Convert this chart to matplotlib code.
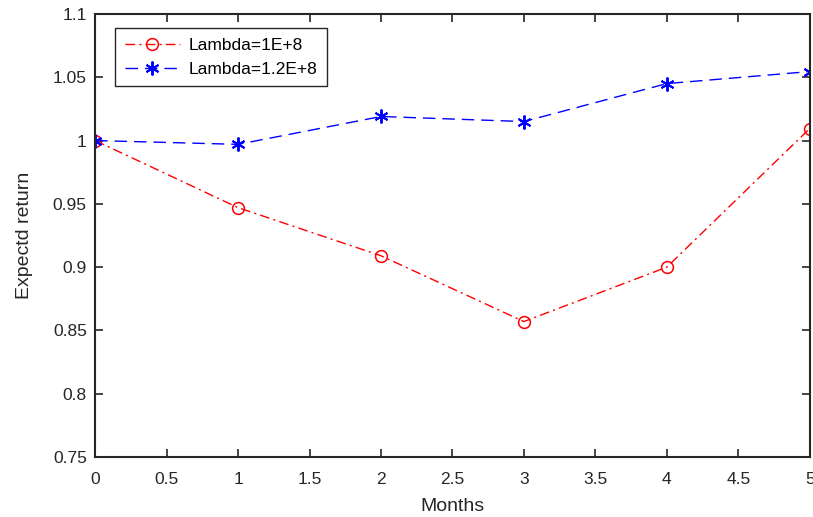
import matplotlib.pyplot as plt

months = [0, 1, 2, 3, 4, 5]
ret_1e8 = [1.0, 0.947, 0.909, 0.857, 0.900, 1.0095]
ret_12e8 = [1.0, 0.997, 1.019, 1.015, 1.045, 1.0545]

plt.rcParams['font.family'] = ['Liberation Sans', 'DejaVu Sans']

fig = plt.figure(figsize=(8.13, 5.17), dpi=100)
ax = fig.add_axes([0.117, 0.116, 0.879, 0.857])

ax.plot(months, ret_1e8, color='red', linestyle=(0, (7, 3, 1.5, 3)), marker='o', markersize=8.5,
        markerfacecolor='none', markeredgewidth=1.1, linewidth=1, label='Lambda=1E+8')
ax.plot(months, ret_12e8, color='blue', linestyle=(0, (9, 5)), marker=(6, 2, 0), markersize=10,
        markeredgewidth=1.4, linewidth=1, label='Lambda=1.2E+8')

ax.set_xlim(0, 5)
ax.set_ylim(0.75, 1.1)
ax.set_xticks([0, 0.5, 1, 1.5, 2, 2.5, 3, 3.5, 4, 4.5, 5])
ax.set_xticklabels(['0', '0.5', '1', '1.5', '2', '2.5', '3', '3.5', '4', '4.5', '5'])
ax.set_yticks([0.75, 0.8, 0.85, 0.9, 0.95, 1.0, 1.05, 1.1])
ax.set_yticklabels(['0.75', '0.8', '0.85', '0.9', '0.95', '1', '1.05', '1.1'])
ax.tick_params(direction='in', top=True, right=True, labelsize=12.5, length=6, width=1.2,
               colors='#262626')
ax.tick_params(axis='x', pad=11)
ax.tick_params(axis='y', pad=6)
for s in ax.spines.values():
    s.set_linewidth(1.5)
    s.set_color('#262626')

ax.set_xlabel('Months', fontsize=14, color='#262626', labelpad=8)
ax.set_ylabel('Expectd return', fontsize=14, color='#262626', labelpad=14)

leg = ax.legend(loc='upper left', bbox_to_anchor=(0.028, 0.968), borderaxespad=0,
                fontsize=12.5, fancybox=False, edgecolor='#262626', framealpha=1,
                handlelength=3.2, borderpad=0.55, labelspacing=0.5, handletextpad=0.5)
leg.get_frame().set_linewidth(1)

fig.savefig('out.png', dpi=100)
plt.close(fig)
